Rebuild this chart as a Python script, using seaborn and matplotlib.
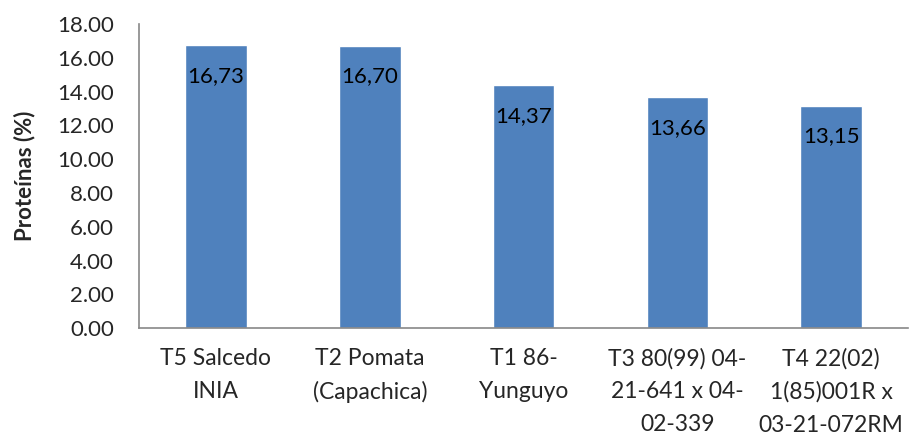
import pandas as pd
import matplotlib.pyplot as plt
import seaborn as sns
from matplotlib.ticker import FormatStrFormatter

# data
tratamientos = [
    "T5 Salcedo\nINIA",
    "T2 Pomata\n(Capachica)",
    "T1 86-\nYunguyo",
    "T3 80(99) 04-\n21-641 x 04-\n02-339",
    "T4 22(02)\n1(85)001R x\n03-21-072RM",
]
proteinas = [16.73, 16.70, 14.37, 13.66, 13.15]

df = pd.DataFrame({"Tratamiento": tratamientos, "Proteinas": proteinas})

sns.set_style("white")
plt.rcParams["font.family"] = ["Lato", "DejaVu Sans"]

fig, ax = plt.subplots(figsize=(9.09, 4.37), dpi=100)
fig.subplots_adjust(left=0.153, right=0.999, top=0.945, bottom=0.249)

sns.barplot(data=df, x="Tratamiento", y="Proteinas", color="#4F81BD",
            saturation=1, width=0.4, ax=ax)

for i, v in enumerate(df["Proteinas"]):
    ax.text(i, v - 1.8, f"{v:.2f}".replace(".", ","), ha="center", va="center",
            fontsize=16, color="black")

ax.set_ylim(0, 18)
ax.set_yticks(range(0, 19, 2))
ax.yaxis.set_major_formatter(FormatStrFormatter("%.2f"))
ax.set_xlim(-0.5, len(tratamientos) - 0.5)
ax.tick_params(axis="y", labelsize=16, length=0, pad=18)
ax.tick_params(axis="x", labelsize=16.5, length=0, pad=14)
for lbl in ax.get_xticklabels():
    lbl.set_linespacing(1.7)
ax.set_xlabel("")
ax.set_ylabel("Proteínas (%)", fontsize=16, fontweight="bold", labelpad=16)

sns.despine(ax=ax, top=True, right=True)
for side in ["left", "bottom"]:
    ax.spines[side].set_color("#888888")
    ax.spines[side].set_linewidth(1.2)

plt.savefig("out.png", dpi=100)
